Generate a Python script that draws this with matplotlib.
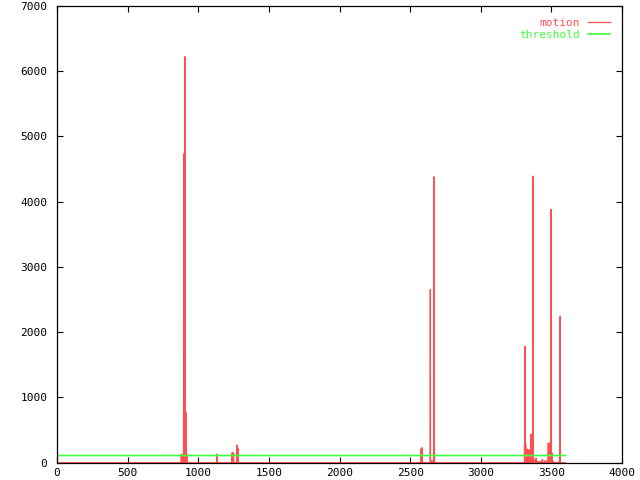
import matplotlib
matplotlib.use("Agg")
import matplotlib.pyplot as plt
import numpy as np

# frame numbers where motion was detected, and the motion amount there
spike_frames = [880, 885, 890, 897, 900, 904, 908, 911, 914, 918, 922,
                1132, 1240, 1245, 1250, 1274, 1281,
                2578, 2584, 2643, 2655, 2668, 2672,
                3310, 3314, 3318, 3324, 3330, 3336, 3342, 3350, 3356, 3369,
                3376, 3384, 3392, 3405, 3420, 3435, 3450, 3465, 3478, 3484,
                3489, 3498, 3504, 3512, 3530, 3550, 3558, 3562]
spike_values = [130, 120, 130, 4730, 4700, 6220, 6200, 770, 760, 130, 120,
                130, 150, 150, 150, 270, 220,
                210, 230, 2650, 30, 4380, 190,
                280, 1780, 280, 90, 210, 150, 200, 150, 435, 4390,
                50, 20, 70, 20, 20, 50, 30, 30, 300, 150,
                300, 3880, 150, 20, 5, 10, 150, 2240]
last_frame = 3600
threshold = 110

frames = np.arange(0, last_frame + 1)
motion = np.zeros(len(frames))
motion[spike_frames] = spike_values
thresh = np.full(len(frames), threshold)

red = '#ff5050'
green = '#40ff40'

plt.rcParams['font.family'] = 'DejaVu Sans Mono'
plt.rcParams['font.size'] = 8
plt.rcParams['path.simplify'] = False

fig = plt.figure(figsize=(6.4, 4.8), dpi=100)
ax = fig.add_axes([57 / 640, 1 - 462.7 / 480, 565 / 640, 457 / 480])

ax.plot(frames, motion, color=red, lw=0.9, label='motion')
ax.plot(frames, thresh, color=green, lw=1.2, label='threshold')

ax.set_xlim(0, 4000)
ax.set_ylim(0, 7000)
ax.set_xticks(range(0, 4001, 500))
ax.set_yticks(range(0, 7001, 1000))
ax.tick_params(direction='in', length=4.5, width=0.8, top=True, right=True,
               pad=4)
ax.tick_params(axis='y', pad=7)
for s in ax.spines.values():
    s.set_linewidth(0.9)

leg = ax.legend(loc='upper right', frameon=False, markerfirst=False,
                handlelength=2.0, handletextpad=0.7, labelspacing=0.15,
                borderaxespad=0.7)
for txt, col in zip(leg.get_texts(), [red, green]):
    txt.set_color(col)

fig.savefig('out.png', dpi=100)
